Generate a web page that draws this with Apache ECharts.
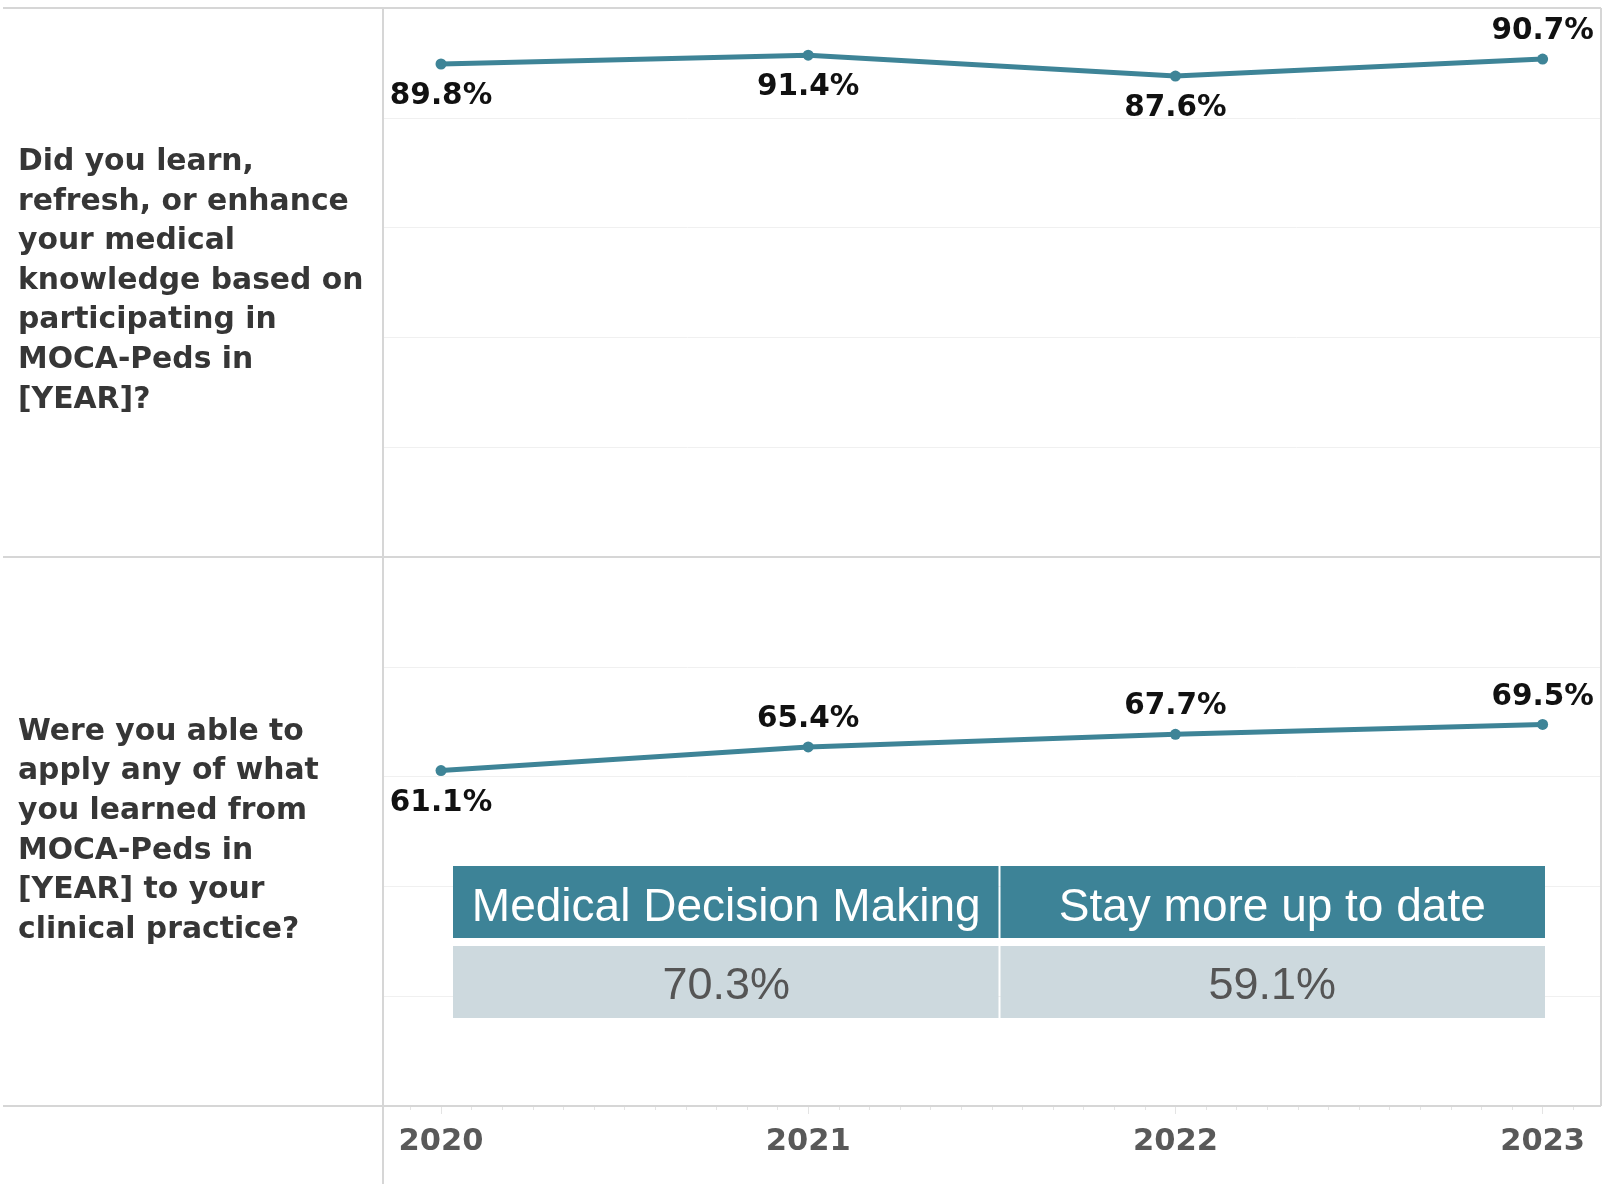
<!DOCTYPE html>
<html>
<head>
<meta charset="utf-8">
<style>
  html, body { margin: 0; padding: 0; background: #ffffff; }
  #chart { width: 1603px; height: 1184px; }
</style>
<script src="https://cdn.jsdelivr.net/npm/echarts@6/dist/echarts.min.js"></script>
</head>
<body>
<div id="chart"></div>
<script>
// ---- data ----
const years = [2020, 2021, 2022, 2023];
const learnValues = [89.8, 91.4, 87.6, 90.7];
const applyValues = [61.1, 65.4, 67.7, 69.5];
const learnLabelSide = ['bottom', 'bottom', 'bottom', 'top'];
const applyLabelSide = ['bottom', 'top', 'top', 'top'];
const question1Lines = ['Did you learn,', 'refresh, or enhance', 'your medical', 'knowledge based on', 'participating in', 'MOCA-Peds in', '[YEAR]?'];
const question2Lines = ['Were you able to', 'apply any of what', 'you learned from', 'MOCA-Peds in', '[YEAR] to your', 'clinical practice?'];
const tableHeaders = ['Medical Decision Making', 'Stay more up to date'];
const tableValues = [70.3, 59.1];
const yTicks = [0, 20, 40, 60, 80, 100];

// ---- styling / layout ----
const LINE = '#3e8497';
const BORDER = '#d6d6d6';
const X_MIN = 2019.842, X_MAX = 2023.159;
const PL = 383, PR = 1601, T0 = 8, MID = 557, B1 = 1106;
const monthTicks = [];
for (let y = 2019; y <= 2023; y++) for (let m = 0; m < 12; m++) {
  const v = y + m / 12;
  if (v > X_MIN && v < X_MAX) monthTicks.push(v);
}

const chart = echarts.init(document.getElementById('chart'), null, { renderer: 'canvas' });

function seriesData(vals, sides) {
  return years.map((yr, i) => ({
    value: [yr, vals[i]],
    label: { position: sides[i], distance: sides[i] === 'top' ? 7 : 12 }
  }));
}

const labelStyle = {
  show: true,
  formatter: p => p.value[1].toFixed(1) + '%',
  fontFamily: 'DejaVu Sans',
  fontWeight: 'bold',
  fontSize: 29.5,
  color: '#111111'
};

const yAxisBase = {
  type: 'value', min: yTicks[0], max: yTicks[yTicks.length - 1], interval: 20,
  axisLine: { show: false }, axisTick: { show: false }, axisLabel: { show: false },
  splitLine: { show: true, lineStyle: { color: '#f0f0f0', width: 1 } }
};

const option = {
  animation: false,
  backgroundColor: '#ffffff',
  grid: [
    { left: PL, top: T0, width: PR - PL, height: MID - T0 },
    { left: PL, top: MID, width: PR - PL, height: B1 - MID },
    { left: PL, top: MID, width: PR - PL, height: B1 - MID }
  ],
  xAxis: [
    { gridIndex: 0, type: 'value', min: X_MIN, max: X_MAX, show: false, splitLine: { show: false } },
    {
      gridIndex: 1, type: 'value', min: X_MIN, max: X_MAX, position: 'bottom',
      axisLine: { show: false },
      splitLine: { show: false },
      axisTick: { show: true, customValues: monthTicks, length: 4, lineStyle: { color: '#e4e4e4', width: 1 } },
      axisLabel: {
        show: true, customValues: years, margin: 21,
        formatter: v => String(Math.round(v)),
        fontFamily: 'DejaVu Sans', fontWeight: 'bold', fontSize: 30.5, color: '#595959'
      }
    },
    {
      gridIndex: 2, type: 'value', min: X_MIN, max: X_MAX, position: 'bottom',
      axisLine: { show: false }, splitLine: { show: false }, axisLabel: { show: false },
      axisTick: { show: true, customValues: years, length: 8, lineStyle: { color: '#e4e4e4', width: 1 } }
    }
  ],
  yAxis: [
    Object.assign({ gridIndex: 0 }, yAxisBase),
    Object.assign({ gridIndex: 1 }, yAxisBase),
    { gridIndex: 2, type: 'value', min: 0, max: 100, show: false, splitLine: { show: false } }
  ],
  series: [
    {
      type: 'line', xAxisIndex: 0, yAxisIndex: 0,
      data: seriesData(learnValues, learnLabelSide),
      symbol: 'circle', symbolSize: 11,
      lineStyle: { color: LINE, width: 5 }, itemStyle: { color: LINE },
      label: labelStyle, z: 5
    },
    {
      type: 'line', xAxisIndex: 1, yAxisIndex: 1,
      data: seriesData(applyValues, applyLabelSide),
      symbol: 'circle', symbolSize: 11,
      lineStyle: { color: LINE, width: 5 }, itemStyle: { color: LINE },
      label: labelStyle, z: 5
    }
  ],
  graphic: []
};

// frame lines
const frame = [
  [3, T0, PR, T0], [3, MID, PR, MID], [3, B1, PR, B1],
  [PL, T0, PL, 1184], [PR, T0, PR, B1]
];
frame.forEach(f => option.graphic.push({
  type: 'line', silent: true, z: 10,
  shape: { x1: f[0], y1: f[1], x2: f[2], y2: f[3] },
  style: { stroke: BORDER, lineWidth: 2 }
}));

// question row headers
const qFont = 'bold 29.8px "DejaVu Sans"';
[[question1Lines, 281], [question2Lines, 831]].forEach(([lines, cy]) => {
  option.graphic.push({
    type: 'text', silent: true, z: 10,
    style: {
      x: 18, y: cy, text: lines.join('\n'), font: qFont, fill: '#363636',
      lineHeight: 39.6, align: 'left', verticalAlign: 'middle'
    }
  });
});

// small summary table overlay
const TX = [453, 999.5, 1545];
const HY = [866, 938], VY = [946, 1018];
tableHeaders.forEach((h, i) => {
  const x0 = TX[i] + (i ? 1 : 0), x1 = TX[i + 1] - (i ? 0 : 1);
  option.graphic.push({
    type: 'rect', silent: true, z: 20,
    shape: { x: x0, y: HY[0], width: x1 - x0, height: HY[1] - HY[0] },
    style: { fill: '#3d8397' }
  });
  option.graphic.push({
    type: 'rect', silent: true, z: 20,
    shape: { x: x0, y: VY[0], width: x1 - x0, height: VY[1] - VY[0] },
    style: { fill: '#cdd9de' }
  });
  option.graphic.push({
    type: 'text', silent: true, z: 21,
    style: {
      x: (TX[i] + TX[i + 1]) / 2, y: (HY[0] + HY[1]) / 2 + 6, text: h,
      font: '46px "Liberation Sans"', fill: '#ffffff', align: 'center', verticalAlign: 'middle'
    }
  });
  option.graphic.push({
    type: 'text', silent: true, z: 21,
    style: {
      x: (TX[i] + TX[i + 1]) / 2, y: (VY[0] + VY[1]) / 2 + 5, text: tableValues[i].toFixed(1) + '%',
      font: '45px "Liberation Sans"', fill: '#555555', align: 'center', verticalAlign: 'middle'
    }
  });
});

chart.setOption(option);
</script>
</body>
</html>
